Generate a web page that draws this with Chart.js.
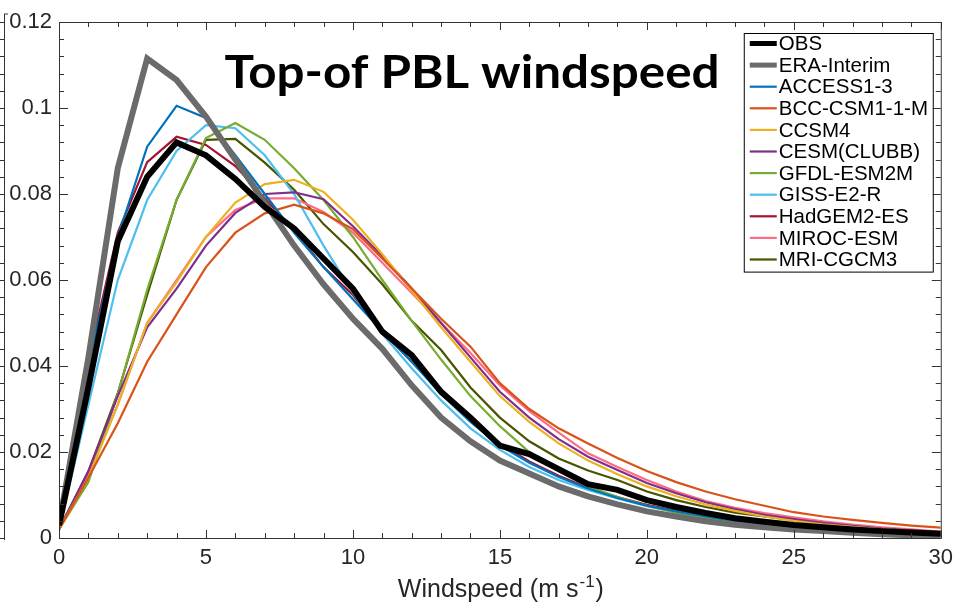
<!DOCTYPE html>
<html>
<head>
<meta charset="utf-8">
<script src="https://cdn.jsdelivr.net/npm/chart.js@4.4.1/dist/chart.umd.min.js"></script>
<style>
  html, body { margin: 0; padding: 0; background: #fff; }
  #wrap { width: 960px; height: 606px; }
</style>
</head>
<body>
<div id="wrap"><canvas id="pblWind" width="960" height="606"></canvas></div>
<script>
// bins wind speed (m/s)
var windspeed = [0, 1, 2, 3, 4, 5, 6, 7, 8, 9, 10, 11, 12, 13, 14, 15, 16, 17, 18, 19, 20, 21, 22, 23, 24, 25, 26, 27, 28, 29, 30];

// frekuensi relatif tiap sumber
var obs        = [0.003, 0.035, 0.069, 0.084, 0.092, 0.089, 0.0835, 0.077, 0.072, 0.065, 0.058, 0.048, 0.0425, 0.034, 0.028, 0.0215, 0.0195, 0.016, 0.0125, 0.0112, 0.0088, 0.0072, 0.0058, 0.0046, 0.0038, 0.003, 0.0025, 0.002, 0.0016, 0.0013, 0.001];
var eraInterim = [0.003, 0.042, 0.086, 0.1115, 0.1065, 0.098, 0.088, 0.078, 0.068, 0.059, 0.051, 0.044, 0.0355, 0.028, 0.0225, 0.018, 0.015, 0.012, 0.0097, 0.0078, 0.0062, 0.005, 0.0039, 0.0031, 0.0025, 0.002, 0.0016, 0.0012, 0.0009, 0.0006, 0.0004];
var access13   = [0.003, 0.04, 0.07, 0.091, 0.1005, 0.0977, 0.089, 0.08, 0.071, 0.063, 0.0555, 0.048, 0.041, 0.0335, 0.027, 0.0215, 0.0175, 0.0142, 0.0115, 0.0093, 0.0075, 0.0062, 0.005, 0.004, 0.0032, 0.0026, 0.002, 0.0016, 0.0012, 0.0009, 0.0007];
var bccCsm     = [0.002, 0.014, 0.0267, 0.041, 0.052, 0.063, 0.071, 0.0755, 0.0775, 0.0755, 0.0718, 0.065, 0.058, 0.051, 0.0445, 0.036, 0.03, 0.0255, 0.022, 0.0186, 0.0156, 0.013, 0.0108, 0.009, 0.0075, 0.006, 0.005, 0.0042, 0.0035, 0.0029, 0.0024];
var ccsm4      = [0.002, 0.014, 0.031, 0.05, 0.0595, 0.07, 0.078, 0.0823, 0.0833, 0.0805, 0.074, 0.066, 0.0575, 0.049, 0.041, 0.033, 0.027, 0.022, 0.018, 0.0148, 0.012, 0.0097, 0.0078, 0.0063, 0.005, 0.004, 0.0032, 0.0026, 0.002, 0.0016, 0.0012];
var cesmClubb  = [0.002, 0.0155, 0.033, 0.049, 0.058, 0.068, 0.0756, 0.08, 0.0804, 0.0788, 0.0725, 0.0655, 0.058, 0.05, 0.042, 0.034, 0.028, 0.023, 0.0189, 0.0158, 0.0128, 0.0104, 0.0083, 0.0067, 0.0054, 0.0044, 0.0035, 0.0028, 0.0022, 0.0018, 0.0014];
var gfdlEsm    = [0.002, 0.013, 0.0335, 0.0577, 0.0786, 0.093, 0.0965, 0.0926, 0.086, 0.0786, 0.07, 0.06, 0.0505, 0.0415, 0.033, 0.026, 0.02, 0.0155, 0.012, 0.0095, 0.0075, 0.0059, 0.0047, 0.0037, 0.0029, 0.0023, 0.0018, 0.0014, 0.0011, 0.0008, 0.0006];
var gissE2r    = [0.002, 0.031, 0.06, 0.0786, 0.09, 0.096, 0.0953, 0.089, 0.08, 0.068, 0.057, 0.0475, 0.0395, 0.032, 0.0255, 0.0205, 0.0165, 0.0135, 0.0112, 0.0092, 0.0074, 0.006, 0.0048, 0.0038, 0.003, 0.0024, 0.0018, 0.0014, 0.0011, 0.0008, 0.0006];
var hadgem2    = [0.003, 0.0414, 0.071, 0.0874, 0.0933, 0.0914, 0.0865, 0.079, 0.0715, 0.063, 0.0565, 0.048, 0.041, 0.034, 0.0275, 0.022, 0.0178, 0.0145, 0.0117, 0.0095, 0.0077, 0.0063, 0.0051, 0.0041, 0.0033, 0.0027, 0.0021, 0.0017, 0.0013, 0.001, 0.0008];
var mirocEsm   = [0.002, 0.0147, 0.031, 0.05, 0.06, 0.07, 0.0763, 0.079, 0.079, 0.0758, 0.071, 0.064, 0.057, 0.05, 0.043, 0.0355, 0.0295, 0.0245, 0.0197, 0.0165, 0.0135, 0.0108, 0.0086, 0.007, 0.0058, 0.0048, 0.0039, 0.0031, 0.0025, 0.002, 0.0015];
var mriCgcm    = [0.002, 0.0155, 0.0337, 0.0565, 0.0786, 0.0926, 0.0928, 0.0873, 0.081, 0.073, 0.0665, 0.059, 0.0505, 0.0437, 0.035, 0.028, 0.0225, 0.0185, 0.0157, 0.0135, 0.0108, 0.0088, 0.0072, 0.0059, 0.005, 0.0042, 0.0034, 0.0027, 0.0021, 0.0016, 0.0012];

var seriesNames  = ["OBS", "ERA-Interim", "ACCESS1-3", "BCC-CSM1-1-M", "CCSM4", "CESM(CLUBB)", "GFDL-ESM2M", "GISS-E2-R", "HadGEM2-ES", "MIROC-ESM", "MRI-CGCM3"];
var seriesValues = [obs, eraInterim, access13, bccCsm, ccsm4, cesmClubb, gfdlEsm, gissE2r, hadgem2, mirocEsm, mriCgcm];
var seriesColors = ["#000000", "#6b6b6b", "#0072bd", "#d95319", "#edb120", "#7e2f8e", "#77ac30", "#4dbeee", "#a2142f", "#ff6b84", "#475400"];
var seriesWidths = [6, 6, 2.2, 2.2, 2.2, 2.2, 2.2, 2.2, 2.2, 2.2, 2.2];

var xTicks = [0, 5, 10, 15, 20, 25, 30];
var yTicks = [0, 0.02, 0.04, 0.06, 0.08, 0.1, 0.12];

var FONT = '"Liberation Sans", Arial, Helvetica, sans-serif';

// dataset (OBS pertama = digambar paling atas)
var datasets = seriesNames.map(function (name, i) {
  return {
    label: name,
    data: windspeed.map(function (w, j) { return { x: w, y: seriesValues[i][j] }; }),
    borderColor: seriesColors[i],
    backgroundColor: seriesColors[i],
    borderWidth: seriesWidths[i],
    pointRadius: 0,
    tension: 0,
    fill: false
  };
});

// kotak sumbu + tick kecil ke dalam
var axisBox = {
  id: "axisBox",
  afterDatasetsDraw: function (chart) {
    var ctx = chart.ctx, a = chart.chartArea;
    var xs = chart.scales.x, ys = chart.scales.y;
    ctx.save();
    ctx.strokeStyle = "#333";
    ctx.lineWidth = 1;
    ctx.strokeRect(a.left + 0.5, a.top + 0.5, a.right - a.left, a.bottom - a.top);
    ctx.beginPath();
    for (var v = 0; v <= 30; v++) {
      var px = Math.round(xs.getPixelForValue(v)) + 0.5;
      var len = v % 5 === 0 ? 8 : 5;
      ctx.moveTo(px, a.bottom); ctx.lineTo(px, a.bottom - len);
      ctx.moveTo(px, a.top); ctx.lineTo(px, a.top + len);
    }
    for (var k = 0; k <= 30; k++) {
      var py = Math.round(ys.getPixelForValue(k * 0.004)) + 0.5;
      var l2 = k % 5 === 0 ? 9 : 5;
      ctx.moveTo(a.left, py); ctx.lineTo(a.left + l2, py);
      ctx.moveTo(a.right, py); ctx.lineTo(a.right - l2, py);
      // sisa sumbu panel tetangga di tepi kiri
      ctx.moveTo(0, py); ctx.lineTo(4, py);
    }
    ctx.moveTo(4.5, a.top - 8); ctx.lineTo(4.5, a.bottom + 2);
    ctx.moveTo(4, a.top - 8); ctx.lineTo(8, a.top - 8);
    ctx.stroke();
    ctx.restore();
  },
  afterDraw: function (chart) {
    var ctx = chart.ctx, a = chart.chartArea;
    ctx.save();
    // judul di dalam plot, dilebarkan sedikit
    var title = "Top-of PBL windspeed";
    ctx.fillStyle = "#000";
    ctx.font = 'bold 46px Lato, "Open Sans", sans-serif';
    ctx.textAlign = "center";
    ctx.textBaseline = "alphabetic";
    var tw = ctx.measureText(title).width;
    ctx.save();
    ctx.translate(472, 88);
    ctx.scale(495 / tw, 1);
    ctx.fillText(title, 0, 0);
    ctx.restore();

    // label sumbu x dengan pangkat
    var cx = (a.left + a.right) / 2;
    ctx.fillStyle = "#262626";
    ctx.textAlign = "left";
    ctx.font = "25px " + FONT;
    var t1 = "Windspeed (m s", t3 = ")";
    var w1 = ctx.measureText(t1).width, w3 = ctx.measureText(t3).width;
    ctx.font = "17px " + FONT;
    var w2 = ctx.measureText("-1").width;
    var x0 = cx - (w1 + w2 + w3) / 2;
    ctx.font = "25px " + FONT;
    ctx.fillText(t1, x0, 597);
    ctx.font = "17px " + FONT;
    ctx.fillText("-1", x0 + w1 + 1, 587);
    ctx.font = "25px " + FONT;
    ctx.fillText(t3, x0 + w1 + w2 + 2, 597);

    // legenda
    var n = chart.data.datasets.length, rowH = 21.6, bw = 189;
    var left = a.right - 8 - bw, top = a.top + 11;
    var bh = n * rowH + 1;
    ctx.fillStyle = "#fff";
    ctx.fillRect(left, top, bw, bh);
    ctx.strokeStyle = "#000";
    ctx.lineWidth = 1;
    ctx.strokeRect(left + 0.5, top + 0.5, bw, bh);
    ctx.font = "20.5px " + FONT;
    ctx.textBaseline = "middle";
    chart.data.datasets.forEach(function (ds, i) {
      var y = top + 10.5 + i * rowH;
      ctx.strokeStyle = ds.borderColor;
      ctx.lineWidth = ds.borderWidth > 3 ? 5 : 2.2;
      ctx.beginPath();
      ctx.moveTo(left + 6, y);
      ctx.lineTo(left + 33, y);
      ctx.stroke();
      ctx.fillStyle = "#000";
      ctx.fillText(ds.label, left + 35, y + 1);
    });
    ctx.restore();
  }
};

var ctx = document.getElementById("pblWind").getContext("2d");
var windChart = new Chart(ctx, {
  type: "line",
  data: { datasets: datasets },
  options: {
    responsive: false,
    animation: false,
    devicePixelRatio: 1,
    layout: { padding: { left: 4, right: 12, top: 22, bottom: 0 } },
    plugins: {
      legend: { display: false },
      title: { display: false },
      tooltip: { enabled: false }
    },
    scales: {
      x: {
        type: "linear",
        min: 0,
        max: 30,
        afterBuildTicks: function (s) { s.ticks = xTicks.map(function (v) { return { value: v }; }); },
        afterFit: function (s) { s.height = 68; },
        ticks: { color: "#262626", font: { size: 22, family: FONT }, padding: 7, maxRotation: 0 },
        grid: { display: false, drawTicks: false },
        border: { display: false }
      },
      y: {
        min: 0,
        max: 0.12,
        afterBuildTicks: function (s) { s.ticks = yTicks.map(function (v) { return { value: v }; }); },
        afterFit: function (s) { s.width = 55; },
        ticks: {
          color: "#262626",
          font: { size: 22, family: FONT },
          padding: 7,
          callback: function (v) { return String(parseFloat(v.toFixed(2))); }
        },
        grid: { display: false, drawTicks: false },
        border: { display: false }
      }
    }
  },
  plugins: [axisBox]
});
</script>
</body>
</html>
